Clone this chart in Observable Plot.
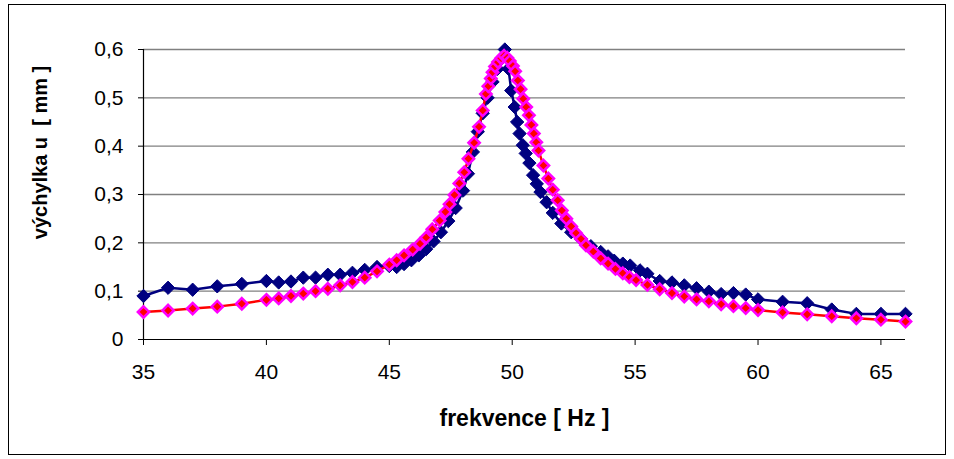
<!DOCTYPE html>
<html><head><meta charset="utf-8">
<script src="https://cdn.jsdelivr.net/npm/d3@7"></script>
<script src="https://cdn.jsdelivr.net/npm/@observablehq/plot@0.6"></script>
<style>body{margin:0;background:#fff;overflow:hidden}</style>
</head><body><div id="chart"></div>
<script>
// Series 1 (navy)
const freq1 = [35,36,37,38,39,40,40.5,41,41.5,42,42.5,43,43.5,44,44.5,45,45.3,45.6,45.9,46.2,46.5,46.8,47.1,47.4,47.7,48.0,48.2,48.4,48.6,48.8,49.0,49.2,49.4,49.55,49.7,49.85,49.96,50.1,50.2,50.3,50.43,50.55,50.7,50.85,51.0,51.15,51.4,51.65,52.0,52.4,52.8,53.2,53.6,53.9,54.15,54.5,54.8,55.2,55.5,56.0,56.5,57.0,57.5,58.0,58.5,59.0,59.5,60.0,61,62,63,64,65,66];
const val1 = [0.090,0.107,0.103,0.110,0.115,0.121,0.118,0.120,0.128,0.128,0.134,0.134,0.138,0.144,0.150,0.152,0.150,0.156,0.164,0.174,0.187,0.203,0.222,0.245,0.272,0.308,0.343,0.388,0.430,0.468,0.500,0.533,0.560,0.580,0.600,0.560,0.515,0.481,0.450,0.426,0.402,0.385,0.365,0.340,0.322,0.305,0.284,0.262,0.240,0.222,0.208,0.193,0.181,0.172,0.163,0.157,0.153,0.143,0.136,0.121,0.118,0.112,0.106,0.099,0.094,0.096,0.093,0.083,0.078,0.075,0.062,0.053,0.053,0.053];
// Series 2 (red / magenta)
const freq2 = [35,36,37,38,39,40,40.5,41,41.5,42,42.5,43,43.5,44,44.5,45,45.3,45.6,45.95,46.25,46.5,46.75,47.05,47.28,47.45,47.65,47.85,48.05,48.22,48.45,48.65,48.8,48.93,49.03,49.13,49.2,49.3,49.42,49.55,49.67,49.8,49.9,50.03,50.12,50.23,50.34,50.45,50.57,50.68,50.78,50.88,50.98,51.07,51.27,51.47,51.65,51.85,52.02,52.2,52.4,52.6,52.8,53.0,53.3,53.6,53.9,54.2,54.5,54.77,55.04,55.5,56.0,56.5,57.0,57.5,58.0,58.5,59.0,59.5,60.0,61,62,63,64,65,66];
const val2 = [0.057,0.060,0.064,0.068,0.074,0.082,0.085,0.090,0.095,0.100,0.105,0.112,0.119,0.128,0.141,0.155,0.164,0.174,0.186,0.198,0.211,0.228,0.246,0.264,0.280,0.299,0.323,0.346,0.374,0.407,0.440,0.474,0.508,0.524,0.540,0.553,0.565,0.574,0.582,0.587,0.583,0.576,0.566,0.555,0.536,0.518,0.498,0.481,0.464,0.444,0.426,0.408,0.391,0.360,0.333,0.310,0.288,0.267,0.250,0.234,0.220,0.208,0.195,0.182,0.168,0.157,0.146,0.137,0.129,0.123,0.113,0.104,0.096,0.089,0.083,0.079,0.073,0.069,0.065,0.061,0.056,0.052,0.048,0.044,0.041,0.037];

const yTicks = [0,0.1,0.2,0.3,0.4,0.5,0.6];
const yTickLabels = ["0","0,1","0,2","0,3","0,4","0,5","0,6"];
const xTicks = [35,40,45,50,55,60,65];
const xTitle = "frekvence [ Hz ]";
const yTitle = "výchylka u  [ mm ]";

const s1 = freq1.map((f, i) => ({f, v: val1[i]}));
const s2 = freq2.map((f, i) => ({f, v: val2[i]}));

const chart = Plot.plot({
  width: 954, height: 459,
  marginLeft: 143, marginRight: 49, marginTop: 49, marginBottom: 120,
  style: {fontFamily: "'Liberation Sans', Arial, sans-serif", fontSize: "21px", background: "white", color: "black", overflow: "visible"},
  x: {domain: [35, 66]},
  y: {domain: [0, 0.6]},
  marks: [
    Plot.gridY(yTicks.slice(1), {stroke: "#808080", strokeOpacity: 1, strokeWidth: 1.3}),
    Plot.axisY(yTicks, {tickSize: 5, tickPadding: 15, tickFormat: d => yTickLabels[yTicks.indexOf(d)], label: null, stroke: "black", fill: "black"}),
    Plot.axisX(xTicks, {tickSize: 6, tickPadding: 19, label: null, tickFormat: d => String(d), stroke: "black", fill: "black"}),
    Plot.ruleX([35], {stroke: "black", strokeWidth: 1.2}),
    Plot.ruleY([0], {stroke: "black", strokeWidth: 1.2}),
    Plot.line(s1, {x: "f", y: "v", stroke: "#000080", strokeWidth: 2.5}),
    Plot.dot(s1, {x: "f", y: "v", symbol: "diamond2", r: 6, fill: "#000080", stroke: "#000080", strokeWidth: 1}),
    Plot.line(s2, {x: "f", y: "v", stroke: "#ff0000", strokeWidth: 2.5}),
    Plot.dot(s2, {x: "f", y: "v", symbol: "diamond2", r: 5.1, fill: "#ff0000", stroke: "#ff00ff", strokeWidth: 2.5}),
    Plot.text([yTitle], {frameAnchor: "left", textAnchor: "middle", lineAnchor: "middle", rotate: -90, dx: -103, dy: -42, fontWeight: "bold", fontSize: 20, fill: "black"}),
    Plot.text([xTitle], {frameAnchor: "bottom", textAnchor: "middle", lineAnchor: "middle", dy: 79, fontWeight: "bold", fontSize: 23, fill: "black"})
  ]
});
d3.select(chart).append("rect")
  .attr("x", 8.5).attr("y", 4.5).attr("width", 937).attr("height", 450)
  .attr("fill", "none").attr("stroke", "black").attr("stroke-width", 1);
document.getElementById("chart").appendChild(chart);
</script>
</body></html>
